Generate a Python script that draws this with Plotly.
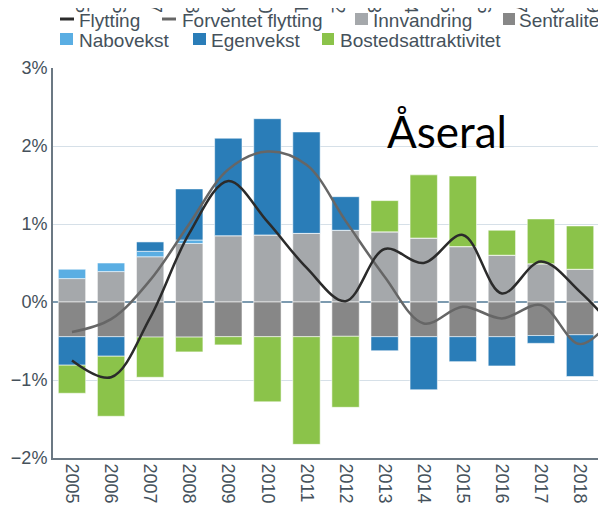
import plotly.graph_objects as go

# ---- data (percent) ----
years = [2005, 2006, 2007, 2008, 2009, 2010, 2011, 2012, 2013, 2014, 2015, 2016, 2017, 2018]
line_years = years + [2019]
innvandring = [0.30, 0.39, 0.58, 0.75, 0.85, 0.86, 0.88, 0.92, 0.90, 0.82, 0.71, 0.60, 0.49, 0.42]
sentralitet = [-0.445, -0.445, -0.45, -0.45, -0.445, -0.445, -0.445, -0.44, -0.445, -0.445, -0.445, -0.445, -0.43, -0.42]
nabovekst = [0.12, 0.11, 0.07, 0.045, 0, 0, 0, 0, 0, 0, 0, 0, 0, 0]
egenvekst = [-0.365, -0.25, 0.12, 0.655, 1.25, 1.49, 1.30, 0.43, -0.18, -0.68, -0.32, -0.375, -0.10, -0.535]
bosted = [-0.36, -0.77, -0.515, -0.19, -0.105, -0.835, -1.38, -0.91, 0.40, 0.81, 0.905, 0.32, 0.575, 0.555]
flytting = [-0.75, -0.965, -0.2, 0.88, 1.55, 1.03, 0.44, 0.01, 0.68, 0.50, 0.86, 0.11, 0.52, 0.13, -0.40]
forventet = [-0.385, -0.22, 0.28, 1.0, 1.7, 1.93, 1.76, 1.04, 0.325, -0.275, -0.06, -0.21, -0.04, -0.54, -0.10]
y_ticks = [-2, -1, 0, 1, 2, 3]
y_ticktext = ["\u22122%", "\u22121%", "0%", "1%", "2%", "3%"]
top_labels = [str(y) for y in line_years]
title_text = "Åseral"

# ---- geometry helpers (page pixel -> paper); the page body has an 8px margin ----
OFF = 8
W, H = 606 - OFF, 512 - OFF
L, R, T, B = 53 - OFF, 0, 68 - OFF, 54
PW, PH = W - L - R, H - T - B


def px_x(px):
    return (px - OFF - L) / PW


def px_y(py):
    return (H - B - (py - OFF)) / PH


C_INN = "#a5a8ab"
C_SEN = "#878787"
C_NAB = "#5aaee3"
C_EGE = "#2a7db8"
C_BOS = "#8bc34a"
C_FLY = "#2b2b2b"
C_FOR = "#666666"
TXT = "#45515b"
FONT = "Liberation Sans, Arial, sans-serif"

fig = go.Figure()
edge = dict(color="rgba(255,255,255,0.55)", width=1)
for name, vals, col in [
    ("Innvandring", innvandring, C_INN),
    ("Sentralitet", sentralitet, C_SEN),
    ("Nabovekst", nabovekst, C_NAB),
    ("Egenvekst", egenvekst, C_EGE),
    ("Bostedsattraktivitet", bosted, C_BOS),
]:
    fig.add_trace(go.Bar(x=years, y=vals, name=name, marker=dict(color=col, line=edge), width=0.7))

fig.add_trace(go.Scatter(x=line_years, y=forventet, name="Forventet flytting", mode="lines",
                         line=dict(color=C_FOR, width=2.5, shape="spline", smoothing=1.0)))
fig.add_trace(go.Scatter(x=line_years, y=flytting, name="Flytting", mode="lines",
                         line=dict(color=C_FLY, width=2.5, shape="spline", smoothing=1.0)))

shapes = []
annotations = []

# manual legend (page pixel positions)
legend_items = [
    ("line", "Flytting", C_FLY, 60, 74, 19, 77),
    ("line", "Forventet flytting", C_FOR, 162, 176, 19, 180),
    ("box", "Innvandring", C_INN, 355, 368, 19, 371),
    ("box", "Sentralitet", C_SEN, 503, 515, 19, 517),
    ("box", "Nabovekst", C_NAB, 60, 73, 39, 77),
    ("box", "Egenvekst", C_EGE, 193, 206, 39, 209),
    ("box", "Bostedsattraktivitet", C_BOS, 322, 334, 39, 338),
]
for kind, label, col, x0, x1, yc, tx in legend_items:
    if kind == "line":
        shapes.append(dict(type="line", xref="paper", yref="paper", x0=px_x(x0), x1=px_x(x1),
                           y0=px_y(yc), y1=px_y(yc), line=dict(color=col, width=3)))
    else:
        shapes.append(dict(type="rect", xref="paper", yref="paper", x0=px_x(x0), x1=px_x(x1),
                           y0=px_y(yc - 6), y1=px_y(yc + 6), line=dict(width=0), fillcolor=col))
    annotations.append(dict(text=label, xref="paper", yref="paper", x=px_x(tx), y=px_y(yc + 1),
                            xanchor="left", yanchor="middle", showarrow=False,
                            font=dict(family=FONT, size=19, color=TXT)))

# cut-off year labels of the chart above
for i, lab in enumerate(top_labels):
    annotations.append(dict(text=lab, xref="paper", yref="paper", x=px_x(82 + i * 36.5), y=px_y(15),
                            xanchor="center", yanchor="bottom", textangle=90, showarrow=False,
                            font=dict(family=FONT, size=18, color=TXT)))

annotations.append(dict(text=title_text, xref="paper", yref="paper", x=px_x(447), y=px_y(131),
                        xanchor="center", yanchor="middle", showarrow=False,
                        font=dict(family="Lato, Carlito, sans-serif", size=44, color="#000000")))

fig.update_layout(
    width=W, height=H,
    margin=dict(l=L, r=R, t=T, b=B, pad=0),
    paper_bgcolor="white", plot_bgcolor="white",
    barmode="relative",
    showlegend=False,
    shapes=shapes,
    annotations=annotations,
    font=dict(family=FONT, size=18, color=TXT),
)
fig.update_xaxes(range=[2004.514, 2018.664], tickvals=years, ticktext=[str(y) for y in years],
                 tickangle=90, ticks="", showgrid=False, showline=True, linecolor="#6b7883",
                 linewidth=2, zeroline=False, tickfont=dict(family=FONT, size=18, color=TXT))
fig.update_yaxes(range=[-2, 3], tickvals=y_ticks, ticktext=y_ticktext, ticks="", showgrid=True,
                 gridcolor="#d6e0e8", gridwidth=1, zeroline=True, zerolinecolor="#7d9bb0",
                 zerolinewidth=1.5, showline=True, linecolor="#6b7883", linewidth=2,
                 tickfont=dict(family=FONT, size=18, color=TXT))

fig.write_html("out.html")
